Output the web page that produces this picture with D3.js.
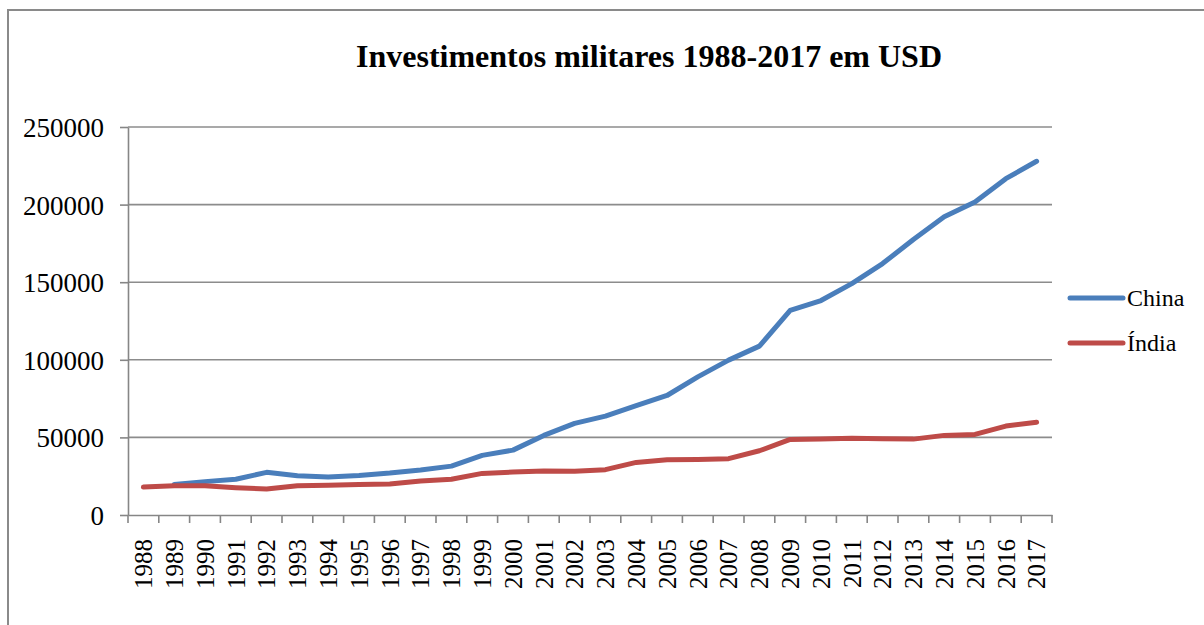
<!DOCTYPE html>
<html>
<head>
<meta charset="utf-8">
<script src="https://cdn.jsdelivr.net/npm/d3@7"></script>
<style>
    body { margin: 0; background: #fff; }
    svg, svg text { font-family: "Liberation Serif", "Times New Roman", serif; }
    .grid line { stroke: #8c8c8c; stroke-width: 1.6; }
    .axis path, .axis line { stroke: #868686; stroke-width: 1.6; }
    .axis text { fill: #000; }
    .series { fill: none; stroke-width: 5; stroke-linejoin: round; stroke-linecap: round; }
</style>
</head>
<body>
<svg id="chart" width="1204" height="625"></svg>
<script>
/* global d3 */
const years = d3.range(1988, 2018).map(String);

// China has no 1988 value in the source
const china = [null, 19700, 21500, 23000, 27500, 25300, 24500, 25500, 27000, 29000,
    31500, 38400, 41800, 51300, 59000, 63700, 70400, 77000, 89000, 99800,
    108800, 131800, 138200, 149100, 162000, 177500, 192100, 201700, 216700, 227900];
const india = [18000, 18900, 18900, 17600, 16700, 18900, 19100, 19700, 20000, 21900,
    23000, 26800, 27700, 28300, 28200, 29200, 33900, 35600, 35800, 36300,
    41400, 48700, 48900, 49400, 49100, 48900, 51300, 51900, 57300, 59700];
const yTicks = [0, 50000, 100000, 150000, 200000, 250000];

const series = [
    {name: "China", values: china, color: "#4a7ebb"},
    {name: "Índia", values: india, color: "#be4b48"}
];

const margin = {top: 127, right: 152, bottom: 110, left: 128};
const W = 1204, H = 625;
const width = W - margin.left - margin.right;
const height = H - margin.top - margin.bottom;

const svg = d3.select("#chart");

// outer frame, right and bottom edges run off the picture
svg.append("rect")
    .attr("x", 8).attr("y", 10)
    .attr("width", 1220).attr("height", 640)
    .attr("fill", "none").attr("stroke", "#8a8a8a").attr("stroke-width", 2);

svg.append("text")
    .attr("x", 649).attr("y", 67)
    .attr("text-anchor", "middle")
    .attr("font-weight", "bold")
    .attr("font-size", 32)
    .text("Investimentos militares 1988-2017 em USD");

const chart = svg.append("g").attr("transform", "translate(" + margin.left + "," + margin.top + ")");

const x = d3.scaleBand().domain(years).range([0, width]);
const y = d3.scaleLinear().domain([0, 250000]).range([height, 0]);

chart.append("g").attr("class", "grid")
    .selectAll("line").data(yTicks.slice(1)).enter()
    .append("line")
        .attr("x1", 0).attr("x2", width)
        .attr("y1", d => y(d)).attr("y2", d => y(d));

const yAxis = chart.append("g").attr("class", "y axis")
    .call(d3.axisLeft(y).tickValues(yTicks).tickSize(8).tickSizeOuter(0).tickPadding(16).tickFormat(d3.format("d")));
yAxis.attr("font-family", null);
yAxis.selectAll("text").attr("font-size", 27).attr("dy", "0.35em");

const xAxis = chart.append("g").attr("class", "x axis")
    .attr("transform", "translate(0," + height + ")")
    .call(d3.axisBottom(x).tickSize(0).tickSizeOuter(0));
xAxis.attr("font-family", null);
xAxis.selectAll("text")
    .attr("font-size", 25)
    .attr("transform", "rotate(-90)")
    .attr("text-anchor", "end")
    .attr("x", -24).attr("y", 0).attr("dy", "0.35em");

// ticks between categories
xAxis.selectAll(".sep").data(d3.range(years.length + 1)).enter()
    .append("line").attr("class", "sep")
    .attr("x1", i => i * x.step()).attr("x2", i => i * x.step())
    .attr("y1", 0).attr("y2", 8)
    .attr("stroke", "#868686").attr("stroke-width", 1.6);

const line = d3.line()
    .defined(d => d != null)
    .x((d, i) => x(years[i]) + x.bandwidth() / 2)
    .y(d => y(d));

chart.selectAll(".series").data(series).enter()
    .append("path")
        .attr("class", "series")
        .attr("stroke", d => d.color)
        .attr("d", d => line(d.values));

const legend = svg.append("g").attr("transform", "translate(1070,298)");
const items = legend.selectAll("g").data(series).enter()
    .append("g").attr("transform", (d, i) => "translate(0," + i * 45 + ")");
items.append("line")
    .attr("x1", 0).attr("x2", 53).attr("y1", 0).attr("y2", 0)
    .attr("stroke", d => d.color).attr("stroke-width", 5).attr("stroke-linecap", "round");
items.append("text")
    .attr("x", 57).attr("y", 0).attr("dy", "0.35em")
    .attr("font-size", 24)
    .text(d => d.name);
</script>
</body>
</html>
